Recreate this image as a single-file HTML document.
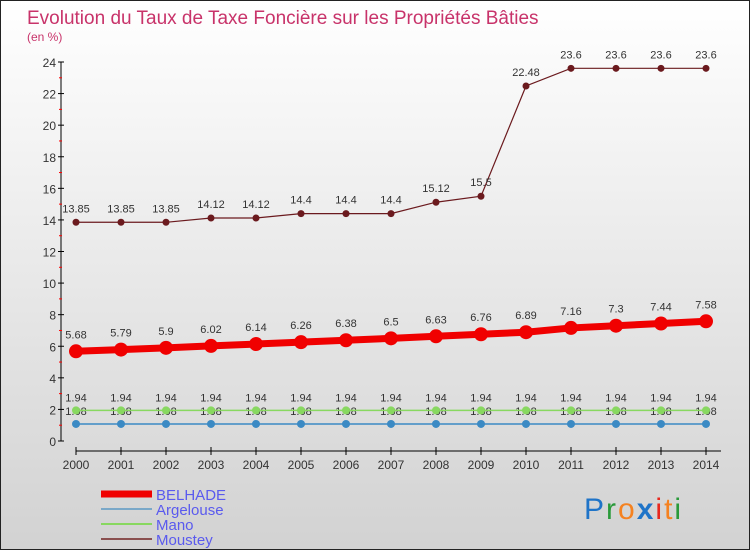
<!DOCTYPE html>
<html><head><meta charset="utf-8"><style>
body{margin:0}
#c{width:750px;height:550px;position:relative;overflow:hidden;box-sizing:border-box;border:1px solid #222;background:linear-gradient(#ffffff,#d2d2d2);font-family:"Liberation Sans",sans-serif}
svg{position:absolute;left:0;top:0}
</style></head><body>
<div id="c">
<svg id="s" width="750" height="550">
<text x="26" y="23" font-size="19" fill="#c8336a">Evolution du Taux de Taxe Foncière sur les Propriétés Bâties</text>
<text x="26" y="40" font-size="12" fill="#c8336a">(en %)</text>
<text x="583" y="518" font-size="30" letter-spacing="2"><tspan fill="#1f74c8">P</tspan><tspan fill="#2a9a3a">r</tspan><tspan fill="#f58220">o</tspan><tspan fill="#1f74c8" font-weight="bold">x</tspan><tspan fill="#e8281e">i</tspan><tspan fill="#f58220">t</tspan><tspan fill="#2a9a3a">i</tspan></text>
</svg>
</div>
<script>
const years=[2000,2001,2002,2003,2004,2005,2006,2007,2008,2009,2010,2011,2012,2013,2014];
const belhade=[5.68,5.79,5.9,6.02,6.14,6.26,6.38,6.5,6.63,6.76,6.89,7.16,7.3,7.44,7.58];
const argelouse=[1.08,1.08,1.08,1.08,1.08,1.08,1.08,1.08,1.08,1.08,1.08,1.08,1.08,1.08,1.08];
const mano=[1.94,1.94,1.94,1.94,1.94,1.94,1.94,1.94,1.94,1.94,1.94,1.94,1.94,1.94,1.94];
const moustey=[13.85,13.85,13.85,14.12,14.12,14.4,14.4,14.4,15.12,15.5,22.48,23.6,23.6,23.6,23.6];
const yTicks=[0,2,4,6,8,10,12,14,16,18,20,22,24];
const NS="http://www.w3.org/2000/svg";
const s=document.getElementById('s');
const X=i=>75+i*45;
const Y=v=>440-v*(379/24);
function mk(t,a,p){const e=document.createElementNS(NS,t);for(const k in a)e.setAttribute(k,a[k]);(p||s).appendChild(e);return e;}
const ya=mk('g',{});


mk('line',{x1:60,y1:Y(24),x2:60,y2:Y(0),stroke:'#000','stroke-width':1},ya);
yTicks.forEach(v=>{
 mk('line',{x1:57,y1:Y(v),x2:63,y2:Y(v),stroke:'#000'},ya);
 if(v<24)mk('line',{x1:58,y1:Y(v+1),x2:61,y2:Y(v+1),stroke:'#f00'},ya);
 const t=mk('text',{x:55,y:Y(v)+5,'text-anchor':'end','font-size':12,fill:'#333'},ya);
 t.textContent=v;
 
 
});
const xa=mk('g',{});


mk('line',{x1:75,y1:450,x2:720,y2:450,stroke:'#000'},xa);
years.forEach((y,i)=>{
 mk('line',{x1:X(i),y1:446,x2:X(i),y2:454,stroke:'#000'},xa);
 const t=mk('text',{x:X(i),y:468,'text-anchor':'middle','font-size':12,fill:'#333'},xa);
 t.textContent=y;
 
 
});
function series(name,data,color,w,r,labels,dy){
 const g=mk('g',{});
 
 
 mk('polyline',{points:data.map((v,i)=>X(i)+','+Y(v)).join(' '),fill:'none',stroke:color,'stroke-width':w},g);
 data.forEach((v,i)=>{
  const c=mk('circle',{cx:X(i),cy:Y(v),r:r,fill:color},g);
  
  
  if(labels){const t=mk('text',{x:X(i),y:Y(v)+dy,'text-anchor':'middle','font-size':11,fill:'#333'},g);t.textContent=String(v);
   
   }
 });
}
series('argelouse',argelouse,'#3b8ac4',1.5,4,true,-9);
series('mano',mano,'#88d860',1.5,4,true,-9);
series('moustey',moustey,'#6b1a1e',1.2,3.5,true,-10);
series('belhade',belhade,'#f00000',7,7,true,-13);
const lg=mk('g',{});


[['BELHADE','#f00000',7],['Argelouse','#7aa8c8',2],['Mano','#88d860',2],['Moustey','#8a5050',2]].forEach((e,i)=>{
 const y=493+i*15;
 const it=mk('g',{},lg);
 
 
 mk('line',{x1:100,y1:y,x2:151,y2:y,stroke:e[1],'stroke-width':e[2]},it);
 const t=mk('text',{x:155,y:y+6,'font-size':15,fill:'#5a5aee'},it);t.textContent=e[0];
});
</script>
</body></html>
